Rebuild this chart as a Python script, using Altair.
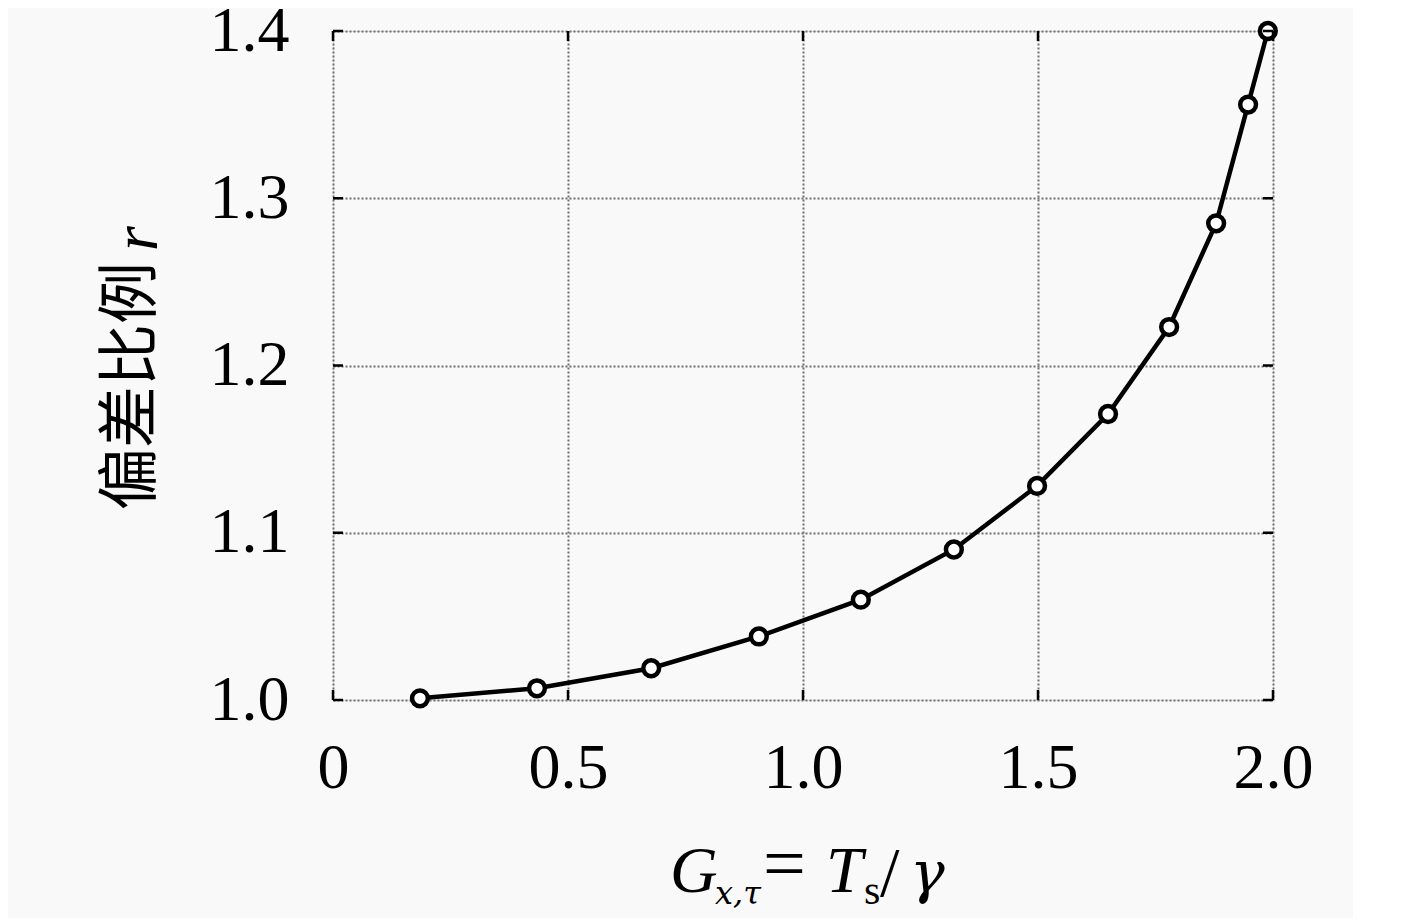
import altair as alt
import pandas as pd

# data
g_vals = [0.185, 0.434, 0.677, 0.906, 1.123, 1.321, 1.498, 1.649, 1.779, 1.879, 1.947, 1.989]
r_vals = [1.001, 1.007, 1.019, 1.038, 1.060, 1.090, 1.128, 1.171, 1.223, 1.285, 1.356, 1.400]
x_ticks = [0, 0.5, 1.0, 1.5, 2.0]
y_ticks = [1.0, 1.1, 1.2, 1.3, 1.4]

W, H = 940, 669
SERIF = "Liberation Serif"

df = pd.DataFrame({"g": g_vals, "r": r_vals})
xt = pd.DataFrame({"g": x_ticks})
yt = pd.DataFrame({"r": y_ticks})
one = pd.DataFrame({"k": [0]})

xs = alt.Scale(domain=[0, 2], nice=False)
ys = alt.Scale(domain=[1.0, 1.4], nice=False)

x_axis = alt.Axis(values=x_ticks, labelExpr="datum.value == 0 ? '0' : format(datum.value, '.1f')",
                  grid=True, gridDash=[2, 2], gridColor="#707070", gridWidth=2,
                  ticks=False, domain=False, labelFont=SERIF, labelFontSize=64,
                  labelPadding=36, labelColor="black", title=None, labelFlush=False)
y_axis = alt.Axis(values=y_ticks, format=".1f",
                  grid=True, gridDash=[2, 2], gridColor="#707070", gridWidth=2,
                  ticks=False, domain=False, labelFont=SERIF, labelFontSize=64,
                  labelPadding=44, labelColor="black", title=None, labelBaseline="middle",
                  labelFlush=False)

X = alt.X("g:Q", scale=xs, axis=x_axis)
Y = alt.Y("r:Q", scale=ys, axis=y_axis)

line = alt.Chart(df).mark_line(color="black", strokeWidth=4.5).encode(x=X, y=Y)
pts = alt.Chart(df).mark_point(shape="circle", filled=False, fill="white", fillOpacity=1,
                               color="black", strokeWidth=4.5, size=250, opacity=1).encode(x=X, y=Y)

tick_len = 10
bt = alt.Chart(xt).mark_rule(color="black", strokeWidth=2.5).encode(x=X, y=alt.value(H), y2=alt.value(H - tick_len))
tt = alt.Chart(xt).mark_rule(color="black", strokeWidth=2.5).encode(x=X, y=alt.value(0), y2=alt.value(tick_len))
lt = alt.Chart(yt).mark_rule(color="black", strokeWidth=2.5).encode(y=Y, x=alt.value(0), x2=alt.value(tick_len))
rt = alt.Chart(yt).mark_rule(color="black", strokeWidth=2.5).encode(y=Y, x=alt.value(W), x2=alt.value(W - tick_len))


def txt(s, x, y, size=64, font=SERIF, style="normal", align="left", baseline="alphabetic", angle=0):
    return alt.Chart(one).mark_text(text=s, font=font, fontSize=size, fontStyle=style, align=align,
                                    baseline=baseline, angle=angle, color="black").encode(
        x=alt.value(x), y=alt.value(y))


# x title: G_{x,tau} = T_s / gamma
xb = 861
xtitle = [
    txt("G", 337, xb, 66, style="italic"),
    txt("x,τ", 382, xb + 12, 32, font="DejaVu Serif", style="italic"),
    txt("=", 430, xb - 3, 76),
    txt("T", 493, xb, 66, style="italic"),
    txt("s", 531, xb + 12, 42),
    txt("/", 547, xb + 4, 70),
    txt("γ", 577, xb, 58, font="DejaVu Serif", style="italic"),
]

# y title: 偏差比例 r
ytitle = [
    txt("偏差比例", -201, 479, 62, font="Noto Sans CJK SC", baseline="middle", angle=270),
    txt("r", -176, 220, 64, style="italic", angle=270),
]

chart = alt.layer(line, pts, bt, tt, lt, rt, *xtitle, *ytitle).properties(
    width=W, height=H,
    padding={"left": 325, "top": 23, "right": 80, "bottom": 218},
    autosize=alt.AutoSizeParams(type="none"),
).configure_view(stroke="black", strokeWidth=3).configure(background="#f9f9f9")

chart.save("out.html", embed_options={"renderer": "svg", "actions": False})
